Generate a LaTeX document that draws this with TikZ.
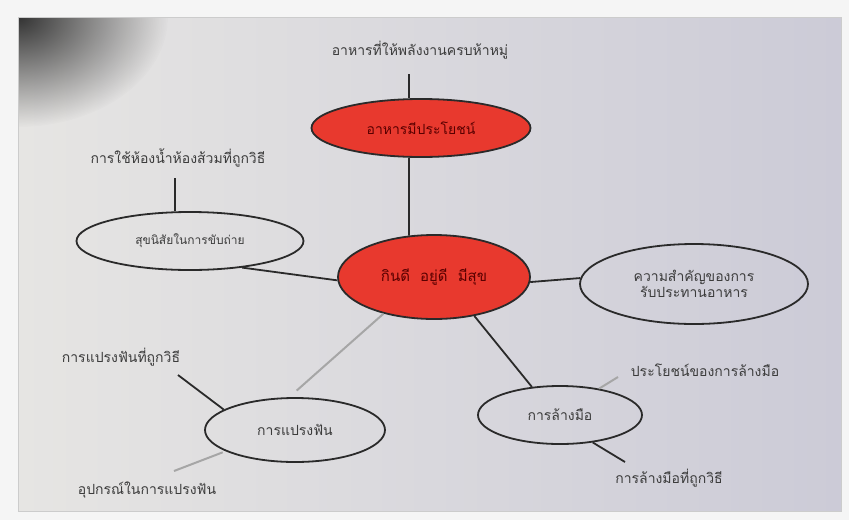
\documentclass[tikz,border=0pt]{standalone}
\usepackage{fontspec}
\newfontfamily\thai[Script=Thai]{Loma}
\usetikzlibrary{shapes.geometric,fadings}
\definecolor{paperL}{HTML}{E6E5E3}
\definecolor{paperR}{HTML}{CCCBD7}
\definecolor{redfill}{HTML}{E8392E}
\definecolor{inkline}{HTML}{2A2A2A}
\definecolor{inktext}{HTML}{3C3C3C}
\tikzfading[name=cornerfade, inner color=transparent!0, outer color=transparent!100]
\tikzset{
  redbub/.style={ellipse, draw=inkline, line width=1.8pt, fill=redfill, inner sep=0pt, font=\thai\fontsize{14}{16}\selectfont, text=red!35!black},
  whitebub/.style={ellipse, draw=inkline, line width=1.8pt, inner sep=0pt, font=\thai\fontsize{14}{16}\selectfont, text=inktext, align=center},
  lbl/.style={font=\thai\fontsize{14}{16}\selectfont, text=inktext, inner sep=1pt},
  conn/.style={draw=inkline, line width=1.8pt},
  softconn/.style={draw=gray!70, line width=2pt}
}
\begin{document}
\begin{tikzpicture}[x=1pt,y=-1pt]
\useasboundingbox (0,0) rectangle (849,520);
\fill[white!92!gray] (0,0) rectangle (849,520);
% paper
\shade[left color=paperL, right color=paperR] (18,17) rectangle (841,511);
\begin{scope}
\clip (18,17) rectangle (841,511);
\fill[black!80, path fading=cornerfade] (18,17) ellipse (150 and 110);
\end{scope}
\draw[gray!40, line width=1pt] (18,17) rectangle (841,511);

% bubbles
\node[redbub, minimum width=192pt, minimum height=84pt] (cen) at (434,277) {\fontsize{15}{17}\selectfont กินดี\ \ อยู่ดี\ \ มีสุข};
\node[redbub, minimum width=219pt, minimum height=58pt] (top) at (421,128) {อาหารมีประโยชน์};
\node[whitebub, minimum width=227pt, minimum height=58pt] (lft) at (190,241) {\fontsize{12}{14}\selectfont สุขนิสัยในการขับถ่าย};
\node[whitebub, minimum width=228pt, minimum height=80pt] (rgt) at (694,284) {ความสำคัญของการ\\รับประทานอาหาร};
\node[whitebub, minimum width=180pt, minimum height=64pt] (bl) at (295,430) {การแปรงฟัน};
\node[whitebub, minimum width=164pt, minimum height=58pt] (br) at (560,415) {การล้างมือ};

% labels
\node[lbl] (ltop) at (420,50) {อาหารที่ให้พลังงานครบห้าหมู่};
\node[lbl] (llft) at (178,158) {การใช้ห้องน้ำห้องส้วมที่ถูกวิธี};
\node[lbl] (lbl1) at (121,357) {การแปรงฟันที่ถูกวิธี};
\node[lbl] (lbl2) at (147,490) {อุปกรณ์ในการแปรงฟัน};
\node[lbl] (lbr1) at (705,370) {ประโยชน์ของการล้างมือ};
\node[lbl] (lbr2) at (669,478) {การล้างมือที่ถูกวิธี};

% connectors
\coordinate (tt) at (409,74);
\coordinate (lt) at (175,178);
\coordinate (b1) at (178,375);
\coordinate (b2) at (174,471);
\coordinate (r1) at (618,377);
\coordinate (r2) at (625,462);

\draw[conn] (tt) -- (tt |- top.north);
\draw[conn] (top.248) -- (cen.121);
\draw[conn] (lt) -- (lt |- lft.north);
\draw[conn] (lft.-27) -- (cen.182);
\draw[conn] (cen.-3) -- (rgt.177);
\draw[softconn, shorten >=10pt] (cen.216) -- (bl.100);
\draw[conn] (cen.-44) -- (br.135);
\draw[conn] (b1) -- (bl.164);
\draw[softconn, shorten >=3pt] (b2) -- (bl.197);
\draw[softconn] (br.34) -- (r1);
\draw[conn] (br.-40) -- (r2);
\end{tikzpicture}
\end{document}
